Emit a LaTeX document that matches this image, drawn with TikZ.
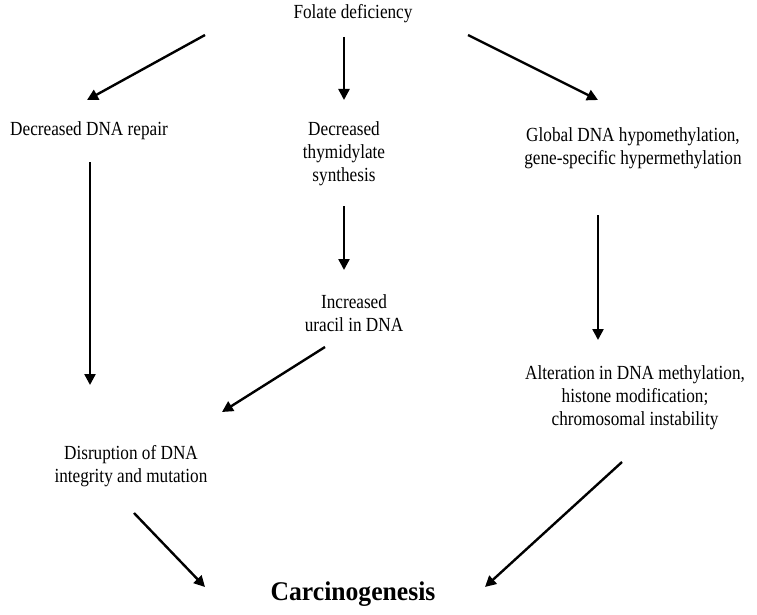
\documentclass[tikz,border=0pt]{standalone}
\usepackage{fontspec}
\setmainfont{Liberation Serif}[FakeStretch=0.86]
\newfontfamily\carfont{Liberation Serif}[FakeStretch=0.95]
\usetikzlibrary{arrows.meta,calc}
\begin{document}
\begin{tikzpicture}[x=1pt,y=-1pt,
  lbl/.style={align=center,font=\fontsize{20}{23}\selectfont,inner sep=0pt},
  arr/.style={line width=2.4pt,-{Triangle[length=11pt,width=11pt]}}]
\useasboundingbox[fill=white] (0,0) rectangle (757,615);
\node[lbl] (fol) at (353,14) {Folate deficiency};
\node[lbl] (rep) at (89,131) {Decreased DNA repair};
\node[lbl] (thy) at (344,154) {Decreased\\thymidylate\\synthesis};
\node[lbl] (glo) at (633,148) {Global DNA hypomethylation,\\gene-specific hypermethylation};
\node[lbl] (ura) at (354,313) {Increased\\uracil in DNA};
\node[lbl] (alt) at (635,398) {Alteration in DNA methylation,\\histone modification;\\chromosomal instability};
\node[lbl] (dis) at (131,466) {Disruption of DNA\\integrity and mutation};
\node[inner sep=0pt,font=\carfont\fontsize{27}{30}\bfseries\selectfont] (car) at (353,594) {Carcinogenesis};
% connectors
\draw[arr] ($(fol)+(-148,21)$) -- ($(rep)+(-2,-31)$);
\draw[arr] ($(fol)+(-9,23)$) -- ($(thy)+(0,-54)$);
\draw[arr] ($(fol)+(115,21)$) -- ($(glo)+(-35,-48)$);
\draw[arr] ($(rep)+(1,31)$) -- ($(dis)+(-41,-81)$);
\draw[arr] ($(thy)+(0,52)$) -- ($(ura)+(-10,-43)$);
\draw[arr] ($(glo)+(-35,67)$) -- ($(alt)+(-37,-58)$);
\draw[arr] ($(ura)+(-29,34)$) -- ($(dis)+(91,-54)$);
\draw[arr] ($(dis)+(3,47)$) -- ($(car)+(-148,-7)$);
\draw[arr] ($(alt)+(-13,64)$) -- ($(car)+(132,-7)$);
\end{tikzpicture}
\end{document}
